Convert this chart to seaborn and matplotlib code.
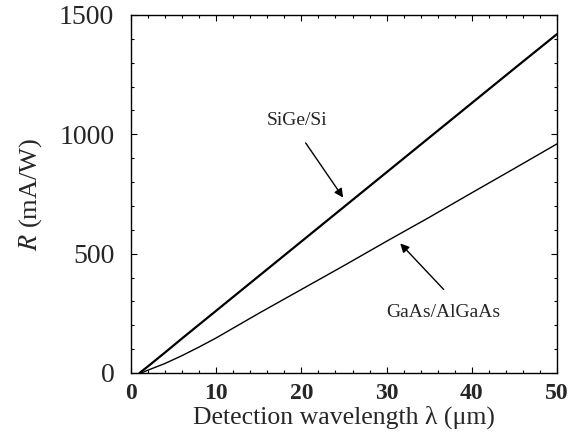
import matplotlib
matplotlib.use("Agg")
import matplotlib.pyplot as plt
from matplotlib.ticker import MultipleLocator
import pandas as pd
import seaborn as sns

# Responsivity vs detection wavelength for two QWIP material systems
sige_wavelength = [1, 2, 4, 6, 8, 10, 15, 20, 25, 30, 35, 40, 45, 50]
sige_resp = [0, 28, 86, 145, 203, 261, 406, 551, 696, 841, 986, 1131, 1276, 1420]

gaas_wavelength = [1.2, 2, 4, 6, 8, 10, 15, 20, 25, 30, 35, 40, 45, 50]
gaas_resp = [0, 12, 40, 73, 109, 147, 250, 350, 450, 552, 652, 755, 857, 960]

x_ticks = [0, 10, 20, 30, 40, 50]
y_ticks = [0, 500, 1000, 1500]

sns.set_theme(style="ticks")
plt.rcParams["font.family"] = ["Liberation Serif", "DejaVu Serif"]
plt.rcParams["mathtext.fontset"] = "stix"

sige = pd.DataFrame({"wavelength": sige_wavelength, "R": sige_resp})
gaas = pd.DataFrame({"wavelength": gaas_wavelength, "R": gaas_resp})

fig = plt.figure(figsize=(5.70, 4.36), dpi=100)
ax = fig.add_axes([0.2298, 0.1445, 0.7474, 0.8211])

sns.lineplot(data=sige, x="wavelength", y="R", ax=ax, color="black", linewidth=1.6)
sns.lineplot(data=gaas, x="wavelength", y="R", ax=ax, color="black", linewidth=1.0)

ax.set_xlim(0, 50)
ax.set_ylim(0, 1500)
ax.set_xticks(x_ticks)
ax.set_yticks(y_ticks)
ax.xaxis.set_minor_locator(MultipleLocator(2))
ax.yaxis.set_minor_locator(MultipleLocator(100))
ax.tick_params(which="both", direction="in", top=True, right=True, color="black", width=0.8)
ax.tick_params(which="major", length=4)
ax.tick_params(which="minor", length=2)
ax.tick_params(axis="y", labelsize=20, pad=12)
ax.tick_params(axis="x", labelsize=17, pad=7)
for lbl in ax.get_xticklabels():
    lbl.set_fontweight("bold")

for side in ax.spines.values():
    side.set_visible(True)
    side.set_linewidth(1.0)
    side.set_color("black")

ax.set_xlabel("Detection wavelength λ (μm)", fontsize=18.5, labelpad=1)
ax.set_ylabel("$R$ (mA/W)", fontsize=19, labelpad=11)

arrow = dict(arrowstyle="-|>", color="black", lw=1.0, mutation_scale=13,
             shrinkA=0, shrinkB=0)
ax.text(19.5, 1058, "SiGe/Si", ha="center", va="center", fontsize=14)
ax.annotate("", xy=(24.9, 735), xytext=(20.5, 964), arrowprops=arrow)
ax.text(36.7, 254, "GaAs/AlGaAs", ha="center", va="center", fontsize=14)
ax.annotate("", xy=(31.6, 543), xytext=(36.7, 350), arrowprops=arrow)

fig.savefig("out.png", dpi=100)
